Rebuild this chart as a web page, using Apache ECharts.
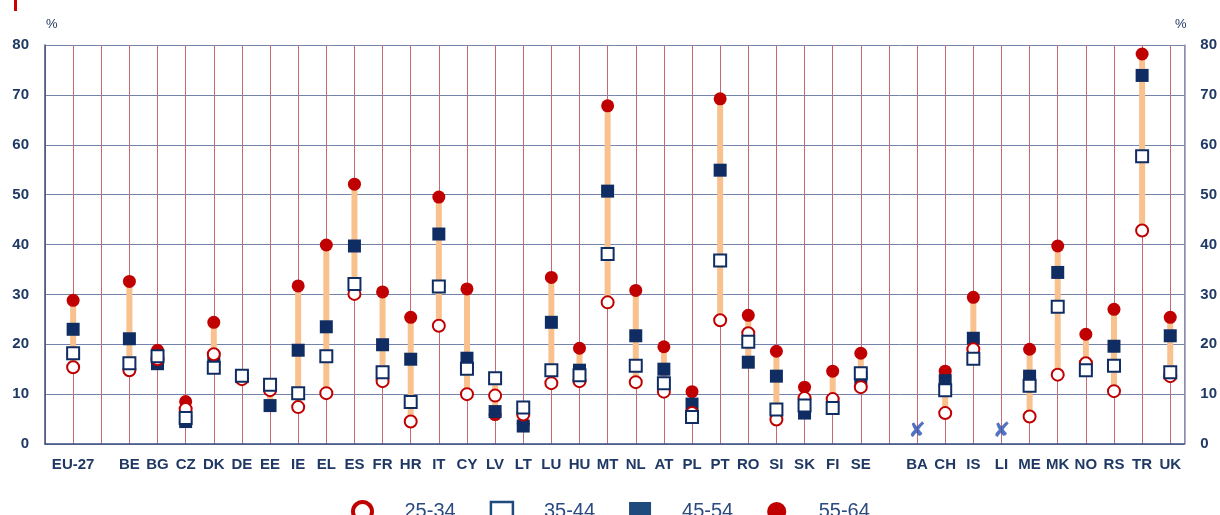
<!DOCTYPE html>
<html>
<head>
<meta charset="utf-8">
<script src="https://cdn.jsdelivr.net/npm/echarts@6/dist/echarts.min.js"></script>
<style>
html,body{margin:0;padding:0;background:#fff;}
#c{width:1220px;height:515px;}
</style>
</head>
<body>
<div id="c"></div>
<script>
// Category slots (blank strings are spacer slots)
const categories = ['EU-27','', 'BE','BG','CZ','DK','DE','EE','IE','EL','ES','FR','HR','IT','CY','LV','LT','LU','HU','MT','NL','AT','PL','PT','RO','SI','SK','FI','SE','', 'BA','CH','IS','LI','ME','MK','NO','RS','TR','UK'];
const ageGroups = ['25-34','35-44','45-54','55-64'];
const age25_34 = [15.4,null,14.8,17.0,7.0,18.0,13.0,10.8,7.4,10.2,30.1,12.6,4.5,23.7,10.0,9.7,5.9,12.2,12.6,28.4,12.4,10.5,6.2,24.8,22.2,4.9,9.2,9.0,11.4,null,null,6.2,19.0,null,5.5,13.9,16.2,10.6,42.8,13.6];
const age35_44 = [18.2,null,16.2,17.6,5.2,15.3,13.7,11.9,10.2,17.6,32.1,14.4,8.4,31.6,15.1,13.2,7.3,14.8,13.8,38.1,15.7,12.2,5.4,36.8,20.5,6.9,7.7,7.2,14.2,null,null,10.8,17.1,null,11.7,27.5,14.8,15.7,57.7,14.4];
const age45_54 = [23.0,null,21.1,16.1,4.5,17.2,13.5,7.7,18.8,23.5,39.7,19.9,17.0,42.1,17.2,6.5,3.6,24.4,14.8,50.7,21.7,15.0,8.0,54.9,16.4,13.6,6.2,8.0,13.2,null,null,12.7,21.2,null,13.6,34.4,15.5,19.6,73.9,21.7];
const age55_64 = [28.8,null,32.6,18.8,8.5,24.4,13.3,11.2,31.7,39.9,52.1,30.5,25.4,49.5,31.1,5.9,4.0,33.4,19.2,67.8,30.8,19.5,10.5,69.2,25.8,18.6,11.4,14.6,18.2,null,null,14.6,29.4,null,19.0,39.7,22.0,27.0,78.2,25.4];
// Not available markers (country codes) and their drawn height
const notAvailable = ['BA','LI'];
const notAvailableLevel = 2.4;
const yTicks = [0,10,20,30,40,50,60,70,80];

const RED = '#c00000', NAVY = '#0f2d62', ORANGE = '#f8c18e', LABEL = '#1f3864';

function pts(arr){ const out=[]; arr.forEach((v,i)=>{ if(v!=null) out.push([i,v]); }); return out; }
const ranges = [];
categories.forEach((c,i)=>{
  const vals=[age25_34[i],age35_44[i],age45_54[i],age55_64[i]].filter(v=>v!=null);
  if(vals.length) ranges.push([i, Math.min(...vals), Math.max(...vals)]);
});
const naData = notAvailable.map(c=>[categories.indexOf(c), notAvailableLevel]);

const chart = echarts.init(document.getElementById('c'));
chart.setOption({
  animation:false,
  grid:{left:45,right:34,top:45,bottom:71},
  xAxis:{
    type:'value', min:-1, max:categories.length-0.5, interval:1,
    axisLine:{show:true,onZero:false,lineStyle:{color:'#3c4f80',width:1.5}},
    axisTick:{show:false},
    splitLine:{show:true,lineStyle:{color:'#c56a74',width:1}},
    axisLabel:{
      margin:13,
      formatter:v=> (Number.isInteger(v)&&v>=0&&v<categories.length)?categories[v]:'',
      color:LABEL, fontWeight:'bold', fontSize:15, fontFamily:'Liberation Sans, Arial'
    }
  },
  yAxis:[
    {type:'value',min:0,max:80,interval:10,position:'left',
     axisLine:{show:true,onZero:false,lineStyle:{color:'#3c4f80',width:1.5}},
     axisTick:{show:false},
     splitLine:{show:true,lineStyle:{color:'#7483aa',width:1}},
     axisLabel:{margin:16,color:LABEL,fontWeight:'bold',fontSize:15,fontFamily:'Liberation Sans, Arial',
       formatter:v=>yTicks.includes(v)?String(v):''}},
    {type:'value',min:0,max:80,interval:10,position:'right',
     axisLine:{show:true,onZero:false,lineStyle:{color:'#8796b8',width:1.5}},
     axisTick:{show:false},
     splitLine:{show:false},
     axisLabel:{margin:16,color:LABEL,fontWeight:'bold',fontSize:15,fontFamily:'Liberation Sans, Arial',
       formatter:v=>yTicks.includes(v)?String(v):''}}
  ],
  legend:{
    left:346, top:495, itemGap:34, itemWidth:22, itemHeight:19,
    textStyle:{fontSize:20,color:'#2b4a80',fontFamily:'Liberation Sans, Arial',padding:[0,0,0,26]},
    data:[
      {name:ageGroups[0],icon:'circle',itemStyle:{color:'#fff',borderColor:RED,borderWidth:4}},
      {name:ageGroups[1],icon:'rect',itemStyle:{color:'#fff',borderColor:'#1f4a7e',borderWidth:2.5}},
      {name:ageGroups[2],icon:'rect',itemStyle:{color:'#1f4a7e',borderWidth:0}},
      {name:ageGroups[3],icon:'circle',itemStyle:{color:RED,borderWidth:0}}
    ]
  },
  graphic:[
    {type:'rect',shape:{x:14,y:0,width:3,height:11},style:{fill:'#cc0000'}},
    {type:'text',left:46,top:18,style:{text:'%',fontSize:13,fill:LABEL,fontFamily:'Liberation Sans, Arial'}},
    {type:'text',left:1175,top:18,style:{text:'%',fontSize:13,fill:LABEL,fontFamily:'Liberation Sans, Arial'}}
  ],
  series:[
    {type:'custom', name:'range', silent:true, data:ranges,
     encode:{x:0,y:[1,2]},
     renderItem:(params,api)=>{
       const p1=api.coord([api.value(0),api.value(1)]);
       const p2=api.coord([api.value(0),api.value(2)]);
       return {type:'rect',shape:{x:p1[0]-3,y:p2[1],width:6,height:p1[1]-p2[1]},style:{fill:ORANGE}};
     }},
    {type:'scatter',name:ageGroups[3],data:pts(age55_64),symbol:'circle',symbolSize:13,itemStyle:{color:RED,opacity:1}},
    {type:'scatter',name:ageGroups[2],data:pts(age45_54),symbol:'rect',symbolSize:13,itemStyle:{color:NAVY,opacity:1}},
    {type:'scatter',name:ageGroups[0],data:pts(age25_34),symbol:'circle',symbolSize:12,itemStyle:{color:'#fff',borderColor:RED,borderWidth:2,opacity:1}},
    {type:'scatter',name:ageGroups[1],data:pts(age35_44),symbol:'rect',symbolSize:12,itemStyle:{color:'#fff',borderColor:NAVY,borderWidth:2,opacity:1}},
    {type:'scatter',name:'n/a',data:naData,symbolSize:1,itemStyle:{color:'rgba(0,0,0,0)'},
     label:{show:true,position:'inside',formatter:'✘',fontSize:21,color:'#2850b0',fontFamily:'DejaVu Sans'}}
  ]
});
</script>
</body>
</html>
